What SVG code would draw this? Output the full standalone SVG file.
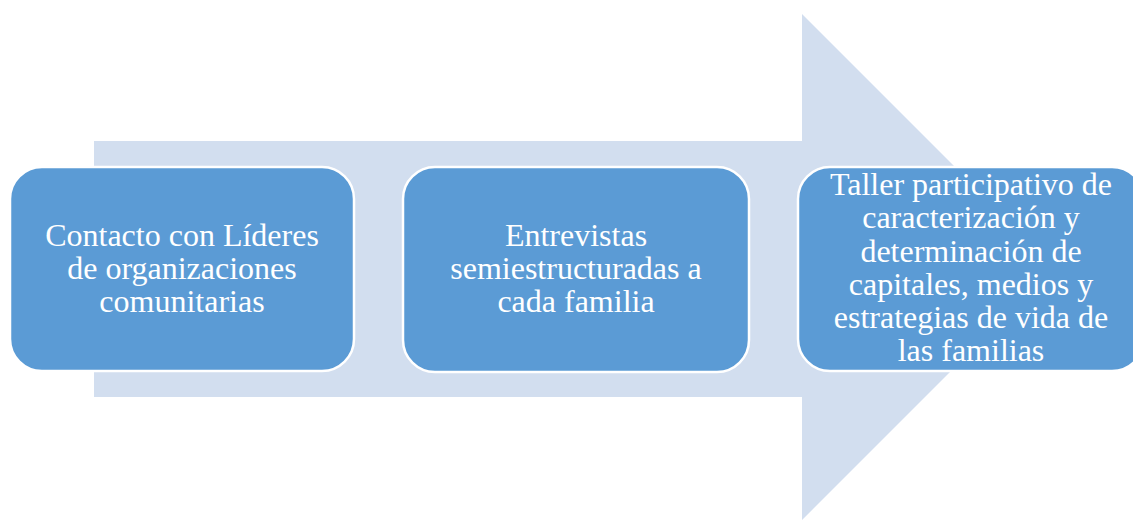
<svg xmlns="http://www.w3.org/2000/svg" width="1133" height="520" viewBox="0 0 1133 520">
<style>
.box{fill:#5B9BD5;stroke:#FFFFFF;stroke-width:2.5}
.lbl{font-family:"Liberation Serif","Times New Roman",serif;font-size:32px;fill:#FFFFFF;text-anchor:middle}
</style>
<rect width="1133" height="520" fill="#FFFFFF"/>
<g id="connectors">
<path d="M94,141 H802 V14 L1055,267 L802,520 V397 H94 Z" fill="#D2DEEF"/>
</g>
<g id="node1">
<rect class="box" x="10" y="167" width="344" height="204" rx="32" ry="32"/>
<text class="lbl"><tspan x="182" y="246">Contacto con Líderes</tspan><tspan x="182" y="279">de organizaciones</tspan><tspan x="182" y="312">comunitarias</tspan></text>
</g>
<g id="node2">
<rect class="box" x="403" y="167" width="346" height="205" rx="32" ry="32"/>
<text class="lbl"><tspan x="576" y="246">Entrevistas</tspan><tspan x="576" y="279">semiestructuradas a</tspan><tspan x="576" y="312">cada familia</tspan></text>
</g>
<g id="node3">
<rect class="box" x="798" y="167" width="346" height="204" rx="32" ry="32"/>
<text class="lbl"><tspan x="971" y="195">Taller participativo de</tspan><tspan x="971" y="228">caracterización y</tspan><tspan x="971" y="262">determinación de</tspan><tspan x="971" y="295">capitales, medios y</tspan><tspan x="971" y="328">estrategias de vida de</tspan><tspan x="971" y="361">las familias</tspan></text>
</g>
</svg>
